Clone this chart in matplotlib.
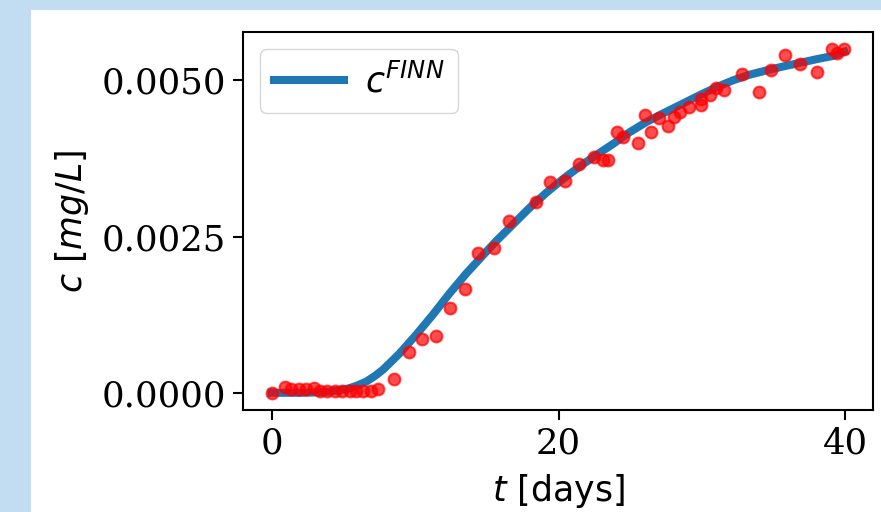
import numpy as np
import matplotlib
matplotlib.use("Agg")
import matplotlib.pyplot as plt
from matplotlib.patches import Rectangle

# measured breakthrough data (red dots)
t_obs = [0.0, 0.9, 1.37, 1.9, 2.4, 2.93, 3.4, 3.86, 4.39, 4.9, 5.44, 5.9, 6.4, 6.9, 7.4,
         8.5, 9.55, 10.47, 11.47, 12.45, 13.45, 14.42, 15.47, 16.54, 18.4, 19.42, 20.47,
         21.46, 22.5, 23.1, 23.45, 24.06, 24.53, 25.53, 26.0, 26.46, 27.04, 27.6, 28.08,
         28.48, 29.08, 29.94, 29.94, 30.57, 30.99, 31.52, 32.8, 33.96, 34.82, 35.82,
         36.86, 38.0, 39.1, 39.4, 39.9]
c_obs = [0.0, 0.00009, 0.00006, 0.00006, 0.00006, 0.00007, 0.00003, 0.00003, 0.00003,
         0.00003, 0.00003, 0.00003, 0.00003, 0.00003, 0.00006, 0.00022, 0.00065, 0.00086,
         0.00091, 0.00136, 0.00166, 0.00223, 0.00232, 0.00275, 0.00306, 0.00338, 0.00339,
         0.00367, 0.00377, 0.00372, 0.00372, 0.00417, 0.0041, 0.0040, 0.00444, 0.00417,
         0.0044, 0.00427, 0.00441, 0.00449, 0.00458, 0.0046, 0.00471, 0.00476, 0.00488,
         0.00485, 0.0051, 0.00482, 0.00516, 0.0054, 0.00526, 0.00514, 0.0055, 0.00544,
         0.0055]

# FINN prediction (blue curve)
t_finn = [0.0, 2.0, 3.0, 4.0, 4.7, 5.44, 6.0, 6.6, 7.2, 7.76, 8.3, 8.92, 9.5, 10.08,
          11.24, 12.4, 13.57, 14.73, 15.66, 16.8, 17.98, 19.14, 20.3, 21.46, 22.6,
          23.78, 24.95, 26.1, 27.27, 28.5, 29.8, 31.0, 32.15, 33.3, 34.5, 35.6, 36.8,
          38.0, 39.1, 39.93]
c_finn = [0.0, 0.0, 0.000005, 0.00002, 0.00004, 0.000075, 0.00012, 0.00018, 0.00027,
          0.00037, 0.00049, 0.00063, 0.00078, 0.00093, 0.00125, 0.00159, 0.00191,
          0.0022, 0.00243, 0.00269, 0.00296, 0.0032, 0.00342, 0.00362, 0.0038,
          0.00398, 0.00417, 0.00433, 0.00447, 0.00461, 0.00476, 0.00489, 0.0050,
          0.00509, 0.00516, 0.00522, 0.00528, 0.00534, 0.00539, 0.00546]

fig = plt.figure(figsize=(8.81, 5.12), dpi=100)
fig.patch.set_facecolor("#c2ddf1")
# white page area (the left and top strips stay light blue)
bg = fig.add_axes([31 / 881, 0, 1 - 31 / 881, 1 - 10 / 512], zorder=0)
bg.axis("off")
bg.add_patch(Rectangle((0, 0), 1, 1, transform=bg.transAxes,
                       facecolor="white", edgecolor="none"))

ax = fig.add_axes([243 / 881, 1 - 410 / 512, 630 / 881, 378 / 512], zorder=2)

ax.plot(t_finn, c_finn, color="#1f77b4", lw=5.8, label=r"$c^{FINN}$", zorder=2,
        solid_joinstyle="round")
ax.plot(t_obs, c_obs, "o", color="red", alpha=0.7, ms=8.5, mew=1.5,
        markeredgecolor="red", zorder=3)

ax.set_xticks([0, 20, 40])
ax.set_yticks([0.0, 0.0025, 0.005])
ax.set_yticklabels(["0.0000", "0.0025", "0.0050"])
for lab in ax.get_xticklabels() + ax.get_yticklabels():
    lab.set_fontfamily("DejaVu Serif")
    lab.set_fontsize(25.5)
ax.tick_params(length=7, width=1.5, pad=5)
for s in ax.spines.values():
    s.set_linewidth(1.5)

ax.set_xlabel(r"$t$ [days]", fontsize=25, labelpad=8)
ax.set_ylabel(r"$c$ $[mg/L]$", fontsize=25, labelpad=8)
ax.legend(loc="upper left", fontsize=25, handlelength=2.0, handletextpad=0.6,
          borderpad=0.4, framealpha=0.8)

fig.savefig("out.png", dpi=100, facecolor=fig.get_facecolor())
